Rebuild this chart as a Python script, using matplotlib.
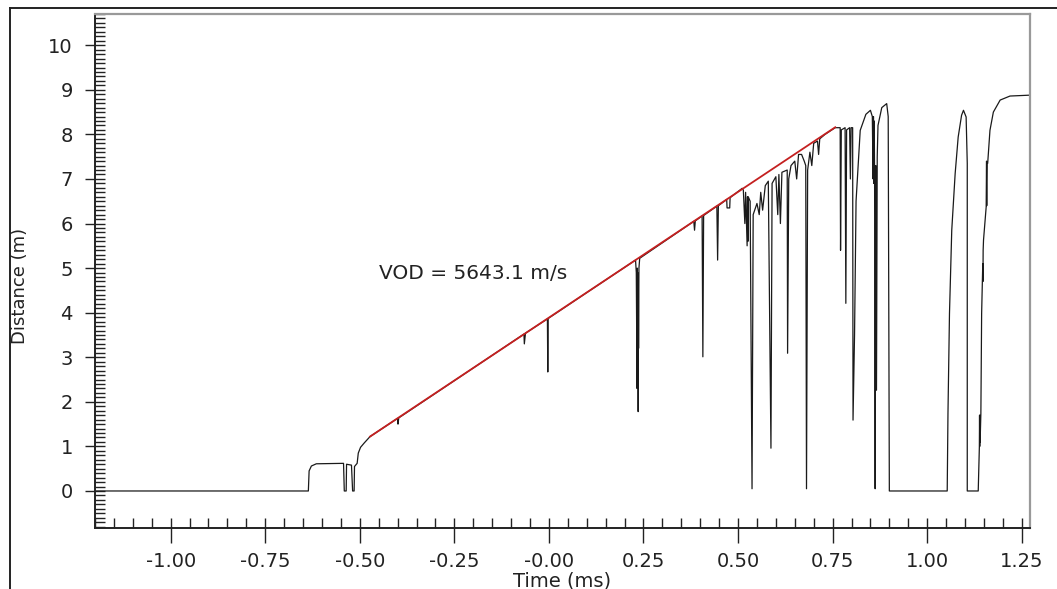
"""
VOD trace - distance vs time with fitted detonation line
"""

import matplotlib
matplotlib.use("Agg")
import matplotlib.pyplot as plt
from matplotlib.lines import Line2D
from matplotlib.ticker import FixedLocator, MultipleLocator

plt.rcParams["font.family"] = ["DejaVu Sans"]

# measured trace (ms, m)
trace_t = [
    -1.200, -0.636, -0.634, -0.628, -0.615, -0.543, -0.541, -0.536, -0.535, -0.522,
    -0.519, -0.515, -0.514, -0.507, -0.504, -0.498, -0.488, -0.473, -0.400, -0.399,
    -0.397, -0.200, -0.066, -0.065, -0.062, -0.004, -0.003, -0.002, 0.100, 0.229,
    0.231, 0.233, 0.2335, 0.234, 0.2345, 0.235, 0.2355, 0.236, 0.2365, 0.237,
    0.238, 0.240, 0.383, 0.385, 0.387,
    0.405, 0.407, 0.409, 0.444, 0.446, 0.448, 0.470, 0.471, 0.478, 0.479,
    0.511, 0.514, 0.518, 0.520, 0.524, 0.525, 0.526, 0.527, 0.532, 0.537,
    0.540, 0.550, 0.556, 0.560, 0.565, 0.572, 0.580, 0.587, 0.590, 0.600,
    0.605, 0.608, 0.612, 0.616, 0.630, 0.631, 0.634, 0.640, 0.650, 0.655,
    0.660, 0.668, 0.675, 0.679, 0.681, 0.684, 0.690, 0.695, 0.700, 0.710,
    0.713, 0.716, 0.730, 0.757, 0.770, 0.771, 0.773, 0.783, 0.785, 0.787,
    0.795, 0.797, 0.799, 0.803, 0.804, 0.808, 0.812, 0.823, 0.838, 0.850,
    0.855, 0.857, 0.858, 0.859, 0.860, 0.861, 0.8625, 0.864, 0.866, 0.868,
    0.870, 0.880, 0.893, 0.897, 0.900, 1.053, 1.055, 1.059, 1.065, 1.074,
    1.082, 1.091, 1.096, 1.103, 1.106, 1.106, 1.135, 1.138, 1.1385, 1.139,
    1.1395, 1.140, 1.142, 1.144, 1.147, 1.1475, 1.148, 1.149, 1.156, 1.157,
    1.1575, 1.158, 1.160, 1.166, 1.175, 1.193, 1.219, 1.272,
]
trace_d = [
    0.00, 0.00, 0.45, 0.56, 0.61, 0.62, 0.00, 0.00, 0.60, 0.58,
    0.00, 0.00, 0.55, 0.62, 0.85, 0.98, 1.08, 1.22, 1.63, 1.50,
    1.64, 2.76, 3.52, 3.30, 3.54, 3.86, 2.67, 3.87, 4.45, 5.18,
    4.90, 2.30, 5.00, 3.20, 4.90, 3.40, 4.80, 1.78, 4.60, 3.20,
    5.00, 5.22, 6.05, 5.85, 6.06,
    6.17, 3.01, 6.18, 6.39, 5.18, 6.40, 6.54, 6.35, 6.35, 6.58,
    6.79, 6.75, 6.00, 6.70, 5.50, 6.60, 5.60, 6.60, 6.50, 0.05,
    6.20, 6.45, 6.20, 6.70, 6.30, 6.85, 6.95, 0.96, 6.90, 7.05,
    6.20, 7.10, 6.00, 7.15, 7.20, 3.09, 7.00, 7.30, 7.40, 7.00,
    7.55, 7.55, 7.40, 7.30, 0.05, 7.20, 7.60, 7.30, 7.80, 7.85,
    7.55, 7.90, 8.00, 8.15, 8.15, 5.40, 8.10, 8.15, 4.21, 8.10,
    8.15, 7.00, 8.15, 8.15, 1.59, 3.50, 6.50, 8.09, 8.45, 8.54,
    8.40, 7.00, 8.40, 6.90, 8.30, 7.10, 0.05, 7.30, 2.26, 7.50,
    8.20, 8.60, 8.69, 8.40, 0.00, 0.00, 1.74, 3.98, 5.85, 7.12,
    7.94, 8.43, 8.54, 8.39, 7.35, 0.00, 0.00, 0.99, 1.70, 1.00,
    1.70, 1.10, 1.74, 3.98, 5.10, 4.70, 5.40, 5.63, 6.37, 7.40,
    6.40, 7.35, 7.35, 8.09, 8.50, 8.77, 8.86, 8.88,
]

# fitted line end points
fit_t = [-0.473, 0.757]
fit_d = [1.22, 8.16]
vod = 5643.1

x_ticks = [-1.00, -0.75, -0.50, -0.25, 0.00, 0.25, 0.50, 0.75, 1.00, 1.25]
x_tick_labels = ["-1.00", "-0.75", "-0.50", "-0.25", "-0.00",
                 "0.25", "0.50", "0.75", "1.00", "1.25"]
y_ticks = [0, 1, 2, 3, 4, 5, 6, 7, 8, 9, 10]


fig = plt.figure(figsize=(10.57, 5.89), dpi=100)
ax = fig.add_axes([0.0899, 0.1036, 0.8846, 0.8726])

ax.plot(trace_t, trace_d, color="#1a1a1a", lw=0.9, zorder=2)
ax.plot(fit_t, fit_d, color="#c42020", lw=1.3, zorder=3)
ax.text(-0.450, 4.89, f"VOD = {vod:.1f} m/s", fontsize=14.5,
        ha="left", va="center", color="#222")

ax.set_xlim(-1.2, 1.272)
ax.set_ylim(-0.83, 10.7)

ax.xaxis.set_major_locator(FixedLocator(x_ticks))
ax.set_xticklabels(x_tick_labels)
ax.xaxis.set_minor_locator(MultipleLocator(0.05))
ax.yaxis.set_major_locator(FixedLocator(y_ticks))
ax.yaxis.set_minor_locator(MultipleLocator(0.1))
ax.xaxis.remove_overlapping_locs = False
ax.yaxis.remove_overlapping_locs = False

ax.tick_params(axis="x", which="major", direction="out", length=11, width=1,
               labelsize=14, pad=6, colors="#222")
ax.tick_params(axis="x", which="minor", direction="in", length=7, width=1, colors="#222")
ax.tick_params(axis="y", which="major", direction="out", length=7, width=1,
               labelsize=14, pad=9, colors="#222")
ax.tick_params(axis="y", which="minor", direction="in", length=7, width=1, colors="#222")

for side in ["left", "bottom"]:
    ax.spines[side].set_color("#222")
    ax.spines[side].set_linewidth(1.4)
for side in ["top", "right"]:
    ax.spines[side].set_color("#999")
    ax.spines[side].set_linewidth(1.6)

ax.set_xlabel("Time (ms)", fontsize=14, labelpad=1, color="#222")
ax.set_ylabel("Distance (m)", fontsize=13, color="#222")
ax.yaxis.set_label_coords(-0.071, 0.47)

# outer frame of the picture
fig.add_artist(Line2D([0.0095, 0.0095], [0.0, 0.9864], color="#222", lw=1.4))
fig.add_artist(Line2D([0.0095, 1.0], [0.9864, 0.9864], color="#222", lw=1.4))

fig.savefig("out.png", dpi=100)
